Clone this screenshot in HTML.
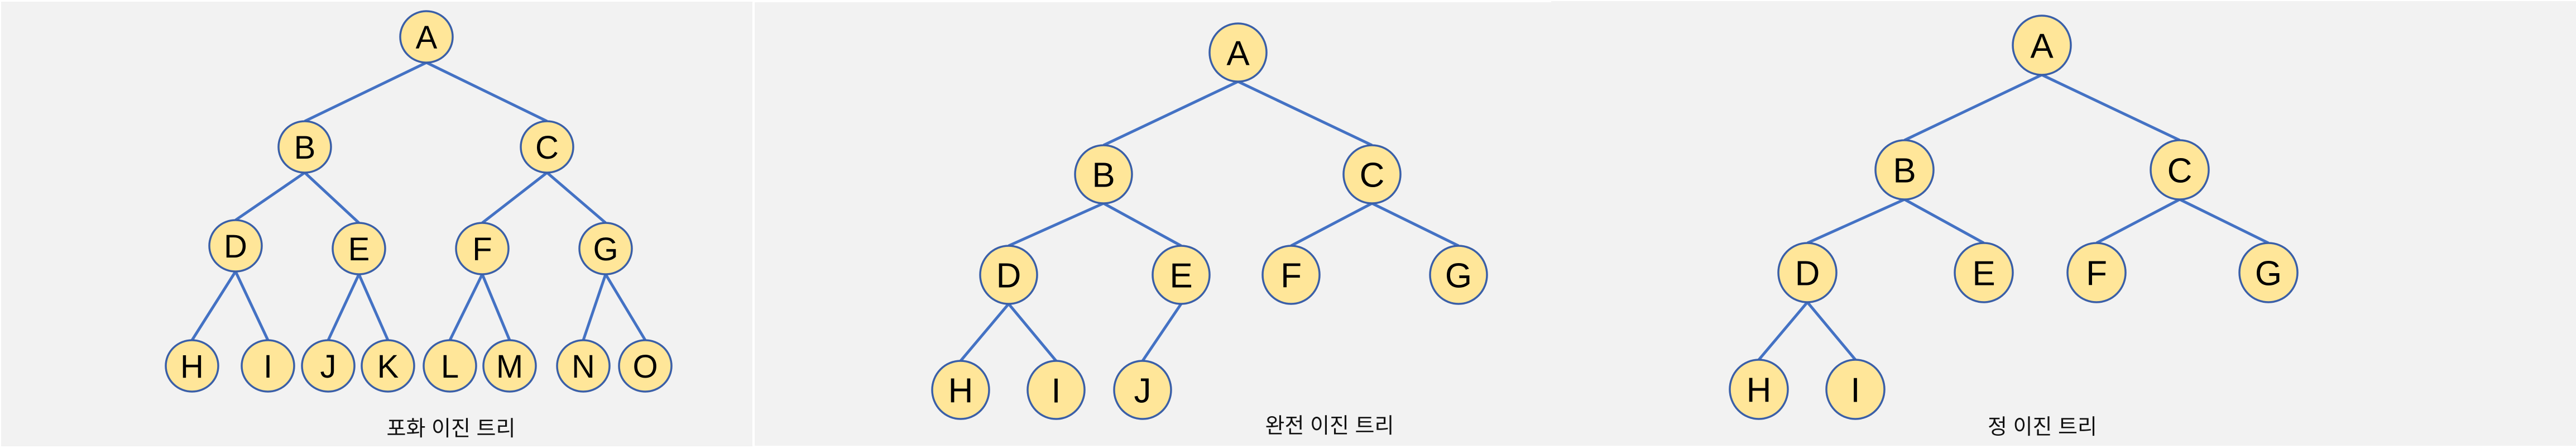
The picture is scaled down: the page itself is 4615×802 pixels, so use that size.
<!DOCTYPE html>
<html><head><meta charset="utf-8">
<style>
html,body{margin:0;padding:0;background:#fff;}
svg{display:block;}
text{font-family:"Liberation Sans","Noto Sans CJK KR",sans-serif;}
</style></head>
<body>
<svg width="4615" height="802" viewBox="0 0 4615 802" xmlns="http://www.w3.org/2000/svg">
<rect x="0" y="0" width="4615" height="802" fill="#ffffff"/>
<rect x="2" y="3" width="1346" height="796" fill="#f2f2f2"/>
<rect x="1352" y="4" width="1436" height="794" fill="#f2f2f2"/>
<rect x="2779" y="2" width="1836" height="796" fill="#f2f2f2"/>
<g id="lines" stroke="#4472c4" stroke-width="5" fill="none"></g>
<g id="nodes"></g>
<text x="808" y="780" font-size="38" text-anchor="middle" fill="#111">포화 이진 트리</text>
<text x="2382" y="775" font-size="38" text-anchor="middle" fill="#111">완전 이진 트리</text>
<text x="3659" y="777" font-size="38" text-anchor="middle" fill="#111">정 이진 트리</text>
</svg>
<script>
var NS="http://www.w3.org/2000/svg";
var L=document.getElementById("lines"),N=document.getElementById("nodes");
function tree(nodes,edges,rx,ry,fs){
  edges.forEach(function(e){
    var p=nodes[e[0]],c=nodes[e[1]];
    var l=document.createElementNS(NS,"line");
    l.setAttribute("x1",p[0]);l.setAttribute("y1",p[1]+ry);
    l.setAttribute("x2",c[0]);l.setAttribute("y2",c[1]-ry);
    L.appendChild(l);
  });
  for(var k in nodes){
    var n=nodes[k];
    var el=document.createElementNS(NS,"ellipse");
    el.setAttribute("cx",n[0]);el.setAttribute("cy",n[1]);
    el.setAttribute("rx",rx);el.setAttribute("ry",ry);
    el.setAttribute("fill","#ffe699");el.setAttribute("stroke","#3a5fa8");el.setAttribute("stroke-width","3.5");
    N.appendChild(el);
    var t=document.createElementNS(NS,"text");
    t.setAttribute("x",n[0]);t.setAttribute("y",n[1]+fs*0.36);
    t.setAttribute("font-size",fs);t.setAttribute("text-anchor","middle");t.setAttribute("fill","#000");
    t.textContent=k;N.appendChild(t);
  }
}
tree({A:[764,66],B:[546,263],C:[980,263],D:[422,440],E:[643,445],F:[864,445],G:[1085,445],
H:[344,655],I:[480,655],J:[588,655],K:[695,655],L:[806,655],M:[913,655],N:[1045,655],O:[1156,655]},
[["A","B"],["A","C"],["B","D"],["B","E"],["C","F"],["C","G"],["D","H"],["D","I"],["E","J"],["E","K"],["F","L"],["F","M"],["G","N"],["G","O"]],47,46,58);
tree({A:[2218,94],B:[1977,312],C:[2458,312],D:[1807,492],E:[2116,492],F:[2313,492],G:[2613,492],
H:[1721,698],I:[1892,698],J:[2047,698]},
[["A","B"],["A","C"],["B","D"],["B","E"],["C","F"],["C","G"],["D","H"],["D","I"],["E","J"]],51,52,62);
tree({A:[3658,81],B:[3412,304],C:[3905,304],D:[3238,488],E:[3554,488],F:[3756,488],G:[4064,488],
H:[3151,697],I:[3324,697]},
[["A","B"],["A","C"],["B","D"],["B","E"],["C","F"],["C","G"],["D","H"],["D","I"]],52,53,62);
</script>
</body></html>
